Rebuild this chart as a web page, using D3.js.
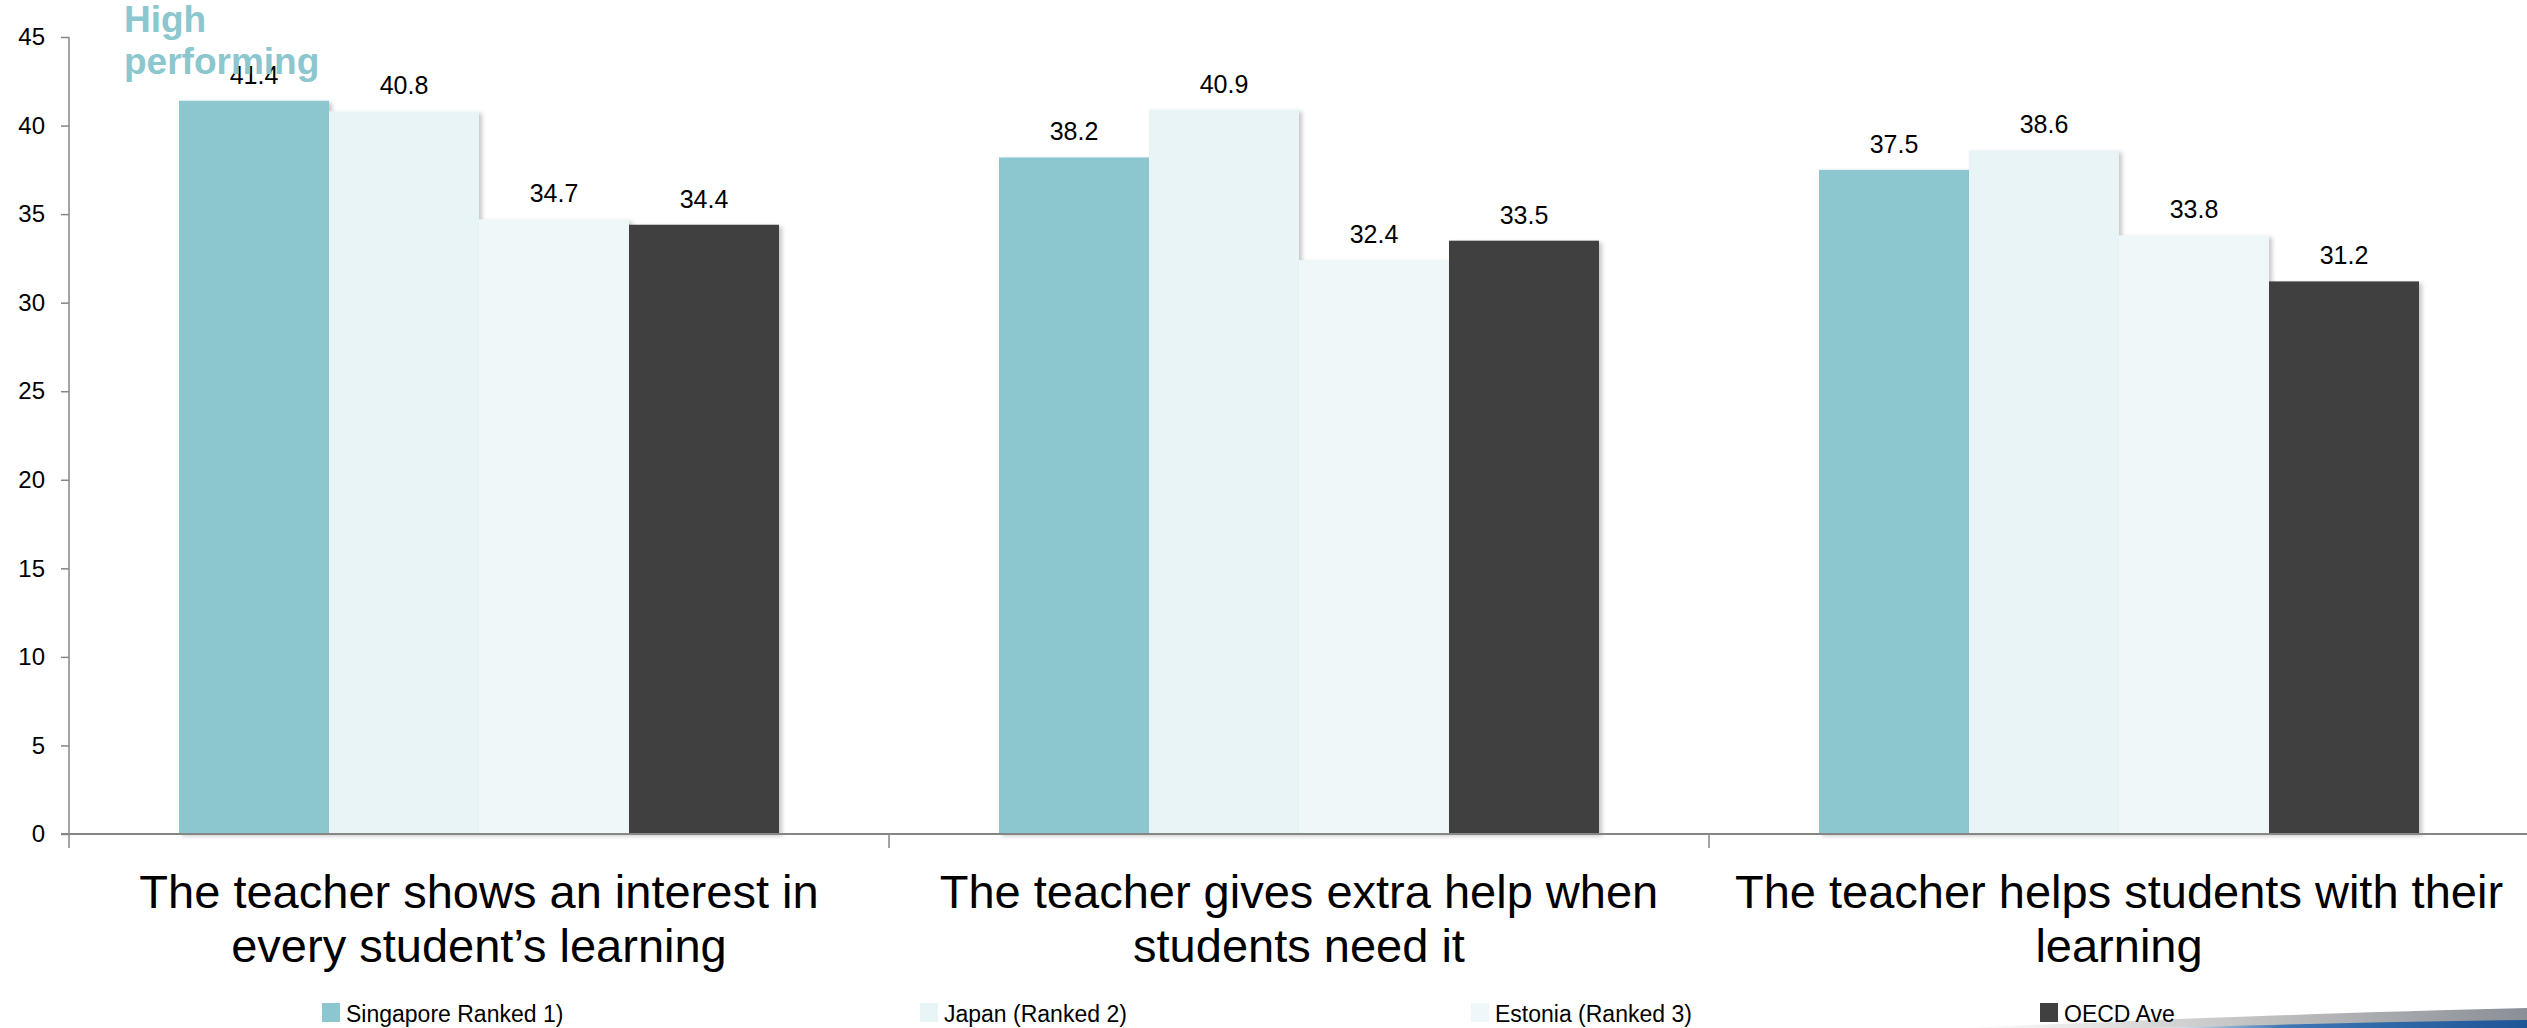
<!DOCTYPE html>
<html>
<head>
<meta charset="utf-8">
<script src="https://cdn.jsdelivr.net/npm/d3@7"></script>
<style>
    html, body { margin: 0; padding: 0; background: #fff; overflow: hidden; }
    svg { display: block; font-family: Arial, "Liberation Sans", sans-serif; }
</style>
</head>
<body>
<div class="chart"></div>
<script>
// data
const categories = [
    "The teacher shows an interest in every student’s learning",
    "The teacher gives extra help when students need it",
    "The teacher helps students with their learning"
]
const category_lines = [
    ["The teacher shows an interest in", "every student’s learning"],
    ["The teacher gives extra help when", "students need it"],
    ["The teacher helps students with their", "learning"]
]
const series = ["Singapore Ranked 1)", "Japan (Ranked 2)", "Estonia (Ranked 3)", "OECD Ave"]
const singapore = [41.4, 38.2, 37.5]
const japan = [40.8, 40.9, 38.6]
const estonia = [34.7, 32.4, 33.8]
const oecd = [34.4, 33.5, 31.2]
const y_ticks = [0, 5, 10, 15, 20, 25, 30, 35, 40, 45]
const colors = ["#8cc6ce", "#e8f4f5", "#eff7f9", "#404040"]

const ctx = {
    W: 2527,
    H: 1028,
    left: 69,
    right: 2529,
    top: 37,
    bottom: 834,
}

function draw_chart() {
    const svg = d3.select(".chart")
        .append("svg")
        .attr("width", ctx.W)
        .attr("height", ctx.H)

    const defs = svg.append("defs")
    const shadow = defs.append("filter")
        .attr("id", "bar-shadow")
        .attr("x", "-10%").attr("y", "-10%")
        .attr("width", "130%").attr("height", "130%")
    shadow.append("feDropShadow")
        .attr("dx", 3).attr("dy", 2)
        .attr("stdDeviation", 2)
        .attr("flood-color", "#000")
        .attr("flood-opacity", 0.22)

    const values = [singapore, japan, estonia, oecd]
    const table = categories.map((c, i) => ({
        cat: c,
        vals: series.map((s, j) => ({ s: s, v: values[j][i], k: j }))
    }))

    const x0 = d3.scaleBand()
        .domain(categories)
        .range([ctx.left, ctx.right])
        .padding(0)
    const group_w = x0.bandwidth()
    const x1 = d3.scaleBand()
        .domain(series)
        .range([110, group_w - 110])
        .padding(0)
    const y = d3.scaleLinear()
        .domain([0, 45])
        .range([ctx.bottom, ctx.top])

    // y axis
    const y_axis = svg.append("g")
        .attr("transform", `translate(${ctx.left},0)`)
        .call(d3.axisLeft(y).tickValues(y_ticks).tickSize(8).tickPadding(16))
    y_axis.select(".domain").remove()
    y_axis.selectAll(".tick line").attr("stroke", "#868686").attr("stroke-width", 1.5)
    y_axis.selectAll(".tick text")
        .attr("fill", "#000")
        .style("font-size", "24px")
        .style("font-family", "Arial, 'Liberation Sans', sans-serif")

    svg.append("line")
        .attr("x1", ctx.left).attr("x2", ctx.left)
        .attr("y1", y(45)).attr("y2", ctx.bottom + 14)
        .attr("stroke", "#868686")
        .attr("stroke-width", 1.5)

    // bars
    const groups = svg.append("g")
        .selectAll("g")
        .data(table)
        .enter()
        .append("g")
        .attr("transform", d => `translate(${x0(d.cat)},0)`)

    groups.selectAll("rect")
        .data(d => d.vals)
        .enter()
        .append("rect")
        .attr("x", d => x1(d.s))
        .attr("y", d => y(d.v))
        .attr("width", x1.bandwidth())
        .attr("height", d => y(0) - y(d.v))
        .attr("fill", d => colors[d.k])
        .attr("filter", "url(#bar-shadow)")

    groups.selectAll("text.val")
        .data(d => d.vals)
        .enter()
        .append("text")
        .attr("class", "val")
        .attr("x", d => x1(d.s) + x1.bandwidth() / 2)
        .attr("y", d => y(d.v) - 17)
        .attr("text-anchor", "middle")
        .style("font-size", "25px")
        .attr("fill", "#000")
        .text(d => d.v.toFixed(1))

    // x axis
    svg.append("line")
        .attr("x1", ctx.left - 8).attr("x2", ctx.W)
        .attr("y1", ctx.bottom).attr("y2", ctx.bottom)
        .attr("stroke", "#868686")
        .attr("stroke-width", 2)

    svg.append("g")
        .selectAll("line")
        .data(categories.slice(1))
        .enter()
        .append("line")
        .attr("x1", d => x0(d)).attr("x2", d => x0(d))
        .attr("y1", ctx.bottom).attr("y2", ctx.bottom + 14)
        .attr("stroke", "#868686")
        .attr("stroke-width", 1.5)

    // category labels
    svg.append("g")
        .selectAll("text")
        .data(categories)
        .enter()
        .append("text")
        .attr("x", d => x0(d) + group_w / 2)
        .attr("y", 908)
        .attr("text-anchor", "middle")
        .style("font-size", "47px")
        .attr("fill", "#000")
        .selectAll("tspan")
        .data((d, i) => category_lines[i])
        .enter()
        .append("tspan")
        .attr("x", function () { return this.parentNode.getAttribute("x") })
        .attr("dy", (d, i) => i == 0 ? 0 : 54)
        .text(d => d)

    // "High performing" note
    const note = svg.append("text")
        .attr("x", 124)
        .attr("y", 32)
        .attr("fill", "#8cc6ce")
        .style("font-size", "37px")
        .style("font-weight", "bold")
    note.append("tspan").attr("x", 124).text("High")
    note.append("tspan").attr("x", 124).attr("dy", 42).text("performing")

    // slide footer swoosh (bottom right)
    const g_grey = defs.append("linearGradient")
        .attr("id", "swoosh-grey")
        .attr("x1", "0").attr("x2", "1").attr("y1", "0").attr("y2", "0")
    g_grey.append("stop").attr("offset", "0").attr("stop-color", "#ffffff")
    g_grey.append("stop").attr("offset", "0.5").attr("stop-color", "#c4c4c4")
    g_grey.append("stop").attr("offset", "1").attr("stop-color", "#8a8f96")
    const g_blue = defs.append("linearGradient")
        .attr("id", "swoosh-blue")
        .attr("x1", "0").attr("x2", "1").attr("y1", "0").attr("y2", "0")
    g_blue.append("stop").attr("offset", "0").attr("stop-color", "#ffffff")
    g_blue.append("stop").attr("offset", "0.35").attr("stop-color", "#3f78b4")
    g_blue.append("stop").attr("offset", "1").attr("stop-color", "#1d5597")

    svg.append("path")
        .attr("d", "M1960,1028 C2150,1020 2350,1012 2527,1008 L2527,1028 Z")
        .attr("fill", "url(#swoosh-grey)")
    svg.append("path")
        .attr("d", "M2150,1028 C2300,1024 2420,1021 2527,1020 L2527,1028 Z")
        .attr("fill", "url(#swoosh-blue)")

    // legend
    const legend_x = [322, 920, 1471, 2040]
    const legend = svg.append("g")
        .selectAll("g")
        .data(series)
        .enter()
        .append("g")
        .attr("transform", (d, i) => `translate(${legend_x[i]},1003)`)
    legend.append("rect")
        .attr("width", 18).attr("height", 19)
        .attr("fill", (d, i) => colors[i])
    legend.append("text")
        .attr("x", 24)
        .attr("y", 19)
        .style("font-size", "23px")
        .attr("fill", "#000")
        .text(d => d)
}

draw_chart()
</script>
</body>
</html>
